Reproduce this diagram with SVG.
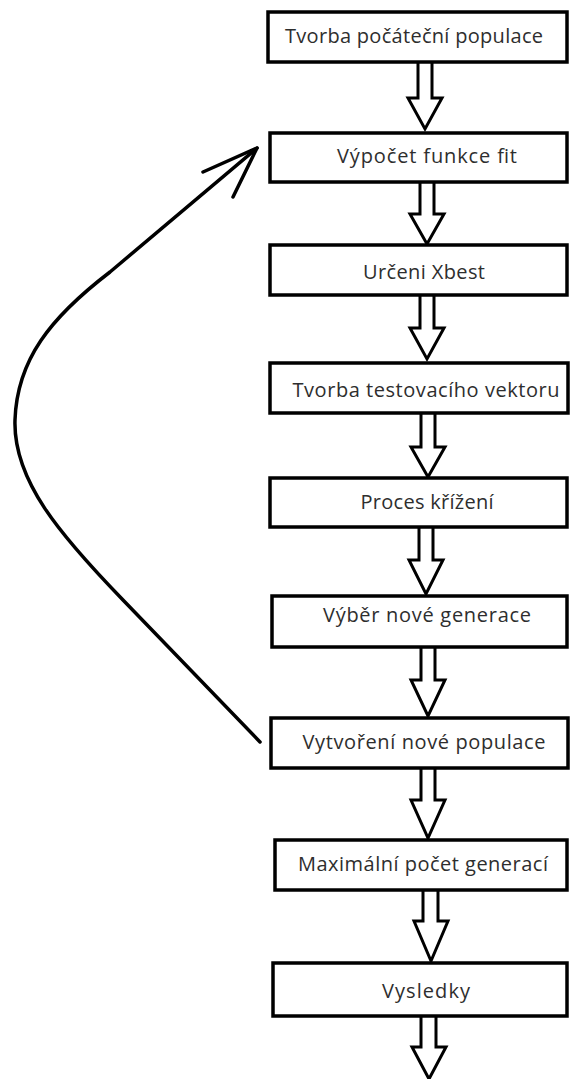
<svg xmlns="http://www.w3.org/2000/svg" width="571" height="1079" viewBox="0 0 571 1079">
<style>
.box{fill:#fff;stroke:#000;stroke-width:3.5}
.lbl{font-family:"Open Sans","Noto Sans","DejaVu Sans",sans-serif;font-size:20px;fill:#2e2e2e;text-anchor:middle}
.flow{fill:#fff;stroke:#000;stroke-width:3;stroke-linejoin:miter}
.loop{fill:none;stroke:#000;stroke-width:3.5;stroke-linecap:round;stroke-linejoin:round}
</style>
<rect width="571" height="1079" fill="#fff"/>
<g id="connectors">
<path class="flow" d="M418,62 V98 H408 L425,129 L442,98 H432 V62"/>
<path class="flow" d="M420,182 V214 H410 L427,244 L444,214 H434 V182"/>
<path class="flow" d="M420,295 V328 H410 L427,359 L444,328 H434 V295"/>
<path class="flow" d="M421,413 V447 H411 L428,477 L445,447 H435 V413"/>
<path class="flow" d="M419,527 V560 H409 L426,594 L443,560 H433 V527"/>
<path class="flow" d="M421,647 V680 H411 L428,716 L445,680 H435 V647"/>
<path class="flow" d="M421,768 V800 H411 L428,838 L445,800 H435 V768"/>
<path class="flow" d="M423,890 V921 H414 L431,961 L448,921 H438 V890"/>
<path class="flow" d="M421,1016 V1047 H412 L429,1079 L446,1047 H436 V1016"/>
<path class="loop" d="M260,742 L123,600 C60,535 13,480 15,420 C17,360 50,318 110,272 L257,148"/>
<path class="loop" d="M203,172 L257,148 L233,197"/>
</g>
<g id="n1"><rect class="box" x="268" y="12" width="299" height="50"/><text class="lbl" x="414" y="43" textLength="258">Tvorba počáteční populace</text></g>
<g id="n2"><rect class="box" x="270" y="133" width="297" height="49"/><text class="lbl" x="427" y="163" textLength="180">Výpočet funkce fit</text></g>
<g id="n3"><rect class="box" x="270" y="245" width="297" height="50"/><text class="lbl" x="424" y="279" textLength="122">Určeni Xbest</text></g>
<g id="n4"><rect class="box" x="270" y="363" width="298" height="50"/><text class="lbl" x="426" y="397" textLength="267">Tvorba testovacího vektoru</text></g>
<g id="n5"><rect class="box" x="270" y="478" width="297" height="49"/><text class="lbl" x="427" y="509" textLength="133">Proces křížení</text></g>
<g id="n6"><rect class="box" x="272" y="596" width="295" height="51"/><text class="lbl" x="427" y="622" textLength="208">Výběr nové generace</text></g>
<g id="n7"><rect class="box" x="271" y="718" width="297" height="50"/><text class="lbl" x="424" y="749" textLength="243">Vytvoření nové populace</text></g>
<g id="n8"><rect class="box" x="275" y="840" width="292" height="50"/><text class="lbl" x="423" y="871" textLength="250">Maximální počet generací</text></g>
<g id="n9"><rect class="box" x="273" y="963" width="294" height="53"/><text class="lbl" x="426" y="998" textLength="88">Vysledky</text></g>
</svg>
